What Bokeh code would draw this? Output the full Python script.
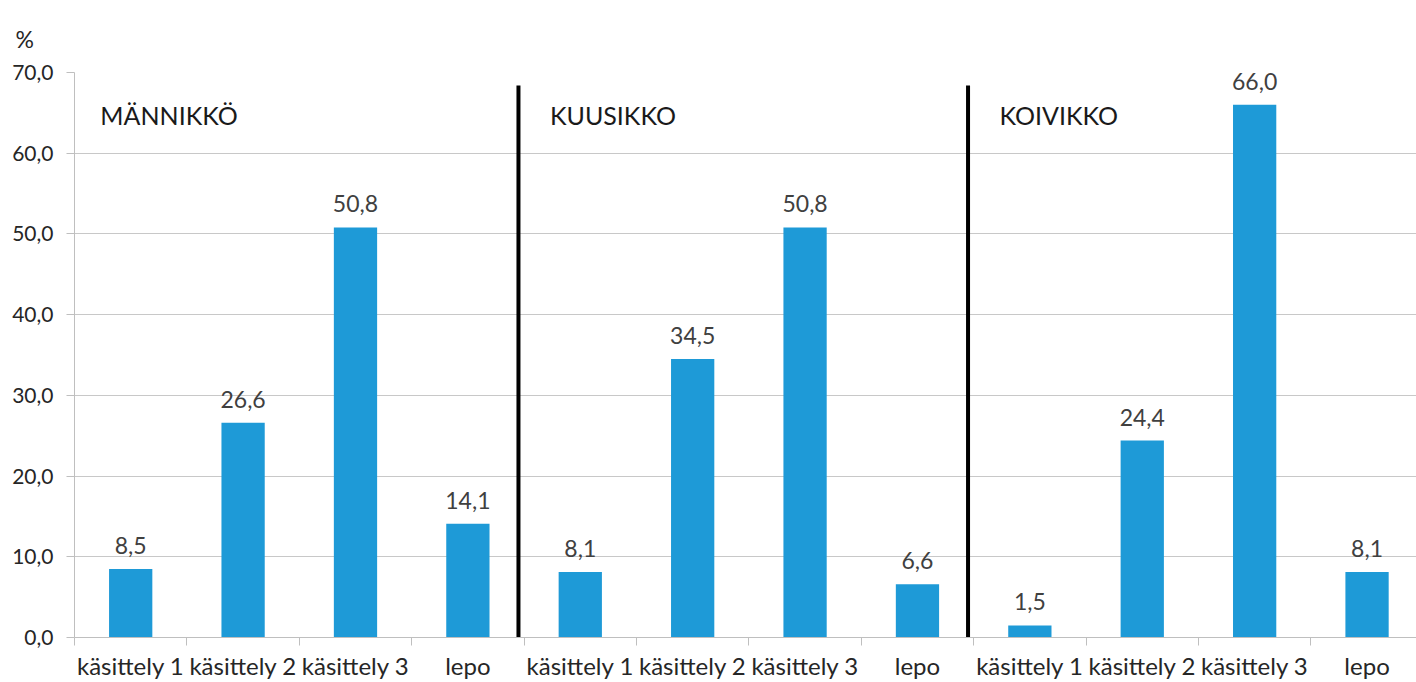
from bokeh.plotting import figure
from bokeh.models import Range1d, FixedTicker, ColumnDataSource
from bokeh.core.properties import value
from bokeh.embed import file_html
from bokeh.resources import INLINE

categories = ["käsittely 1", "käsittely 2", "käsittely 3", "lepo"] * 3
values = [8.5, 26.6, 50.8, 14.1, 8.1, 34.5, 50.8, 6.6, 1.5, 24.4, 66.0, 8.1]
groups = ["MÄNNIKKÖ", "KUUSIKKO", "KOIVIKKO"]
y_ticks = [0, 10, 20, 30, 40, 50, 60, 70]

FONT = "Lato"
BLUE = "#1E9AD7"
TXT = "#404040"

n = len(values)
xs = [i + 0.5 for i in range(n)]
labels = [f"{v:.1f}".replace(".", ",") for v in values]

p = figure(width=1416, height=682, output_backend="svg", toolbar_location=None,
           x_range=Range1d(0, 11.94), y_range=Range1d(0, 70),
           min_border_left=74, min_border_top=72, min_border_bottom=45, min_border_right=0)
p.outline_line_color = None
p.background_fill_color = "white"

# unit label "%" above the value axis
p.title.text = "%"
p.title.align = "left"
p.title.offset = -59
p.title.standoff = 39
p.title.text_font = FONT
p.title.text_font_size = "23px"
p.title.text_font_style = "normal"
p.title.text_color = "#262626"

src = ColumnDataSource(dict(x=xs, top=values, lab=labels))
p.vbar(x="x", top="top", width=0.385, bottom=0, source=src, fill_color=BLUE, line_color=None)
p.text(x="x", y="top", text="lab", source=src, text_align="center", text_baseline="bottom",
       y_offset=-15, text_font=value(FONT), text_font_size="23px", text_color=TXT)

# group separators and titles
gsize = 4
sep_x = [gsize * (g + 1) - 0.05 for g in range(len(groups) - 1)]
p.segment(x0=sep_x, y0=[0] * len(sep_x), x1=sep_x, y1=[68.4] * len(sep_x),
          line_color="black", line_width=4)
p.text(x=[g * gsize + 0.23 for g in range(len(groups))], y=[64.7] * len(groups), text=groups,
       text_align="left", text_baseline="middle", text_font=value(FONT),
       text_font_size="25px", text_color="#1a1a1a")

# axes
p.xaxis.ticker = FixedTicker(ticks=xs, minor_ticks=list(range(n + 1)))
p.xaxis.major_label_overrides = {x: c for x, c in zip(xs, categories)}
p.xaxis.major_tick_out = 0
p.xaxis.major_tick_in = 0
p.xaxis.minor_tick_out = 8
p.xaxis.minor_tick_in = 0
p.xaxis.minor_tick_line_color = "#bfbfbf"
p.xaxis.axis_line_color = "#bfbfbf"
p.xaxis.major_label_text_font = FONT
p.xaxis.major_label_text_font_size = "24px"
p.xaxis.major_label_text_color = "#262626"
p.xaxis.major_label_standoff = 5

p.yaxis.ticker = FixedTicker(ticks=y_ticks)
p.yaxis.major_label_overrides = {t: f"{t:.1f}".replace(".", ",") for t in y_ticks}
p.yaxis.major_tick_out = 8
p.yaxis.major_tick_in = 0
p.yaxis.minor_tick_line_color = None
p.yaxis.major_tick_line_color = "#bfbfbf"
p.yaxis.axis_line_color = "#bfbfbf"
p.yaxis.major_label_text_font = FONT
p.yaxis.major_label_text_font_size = "21px"
p.yaxis.major_label_text_color = "#262626"
p.yaxis.major_label_standoff = 13

p.xgrid.grid_line_color = None
p.ygrid.grid_line_color = "#c8c8c8"
p.ygrid.grid_line_width = 1

open("out.html", "w").write(file_html(p, INLINE))
